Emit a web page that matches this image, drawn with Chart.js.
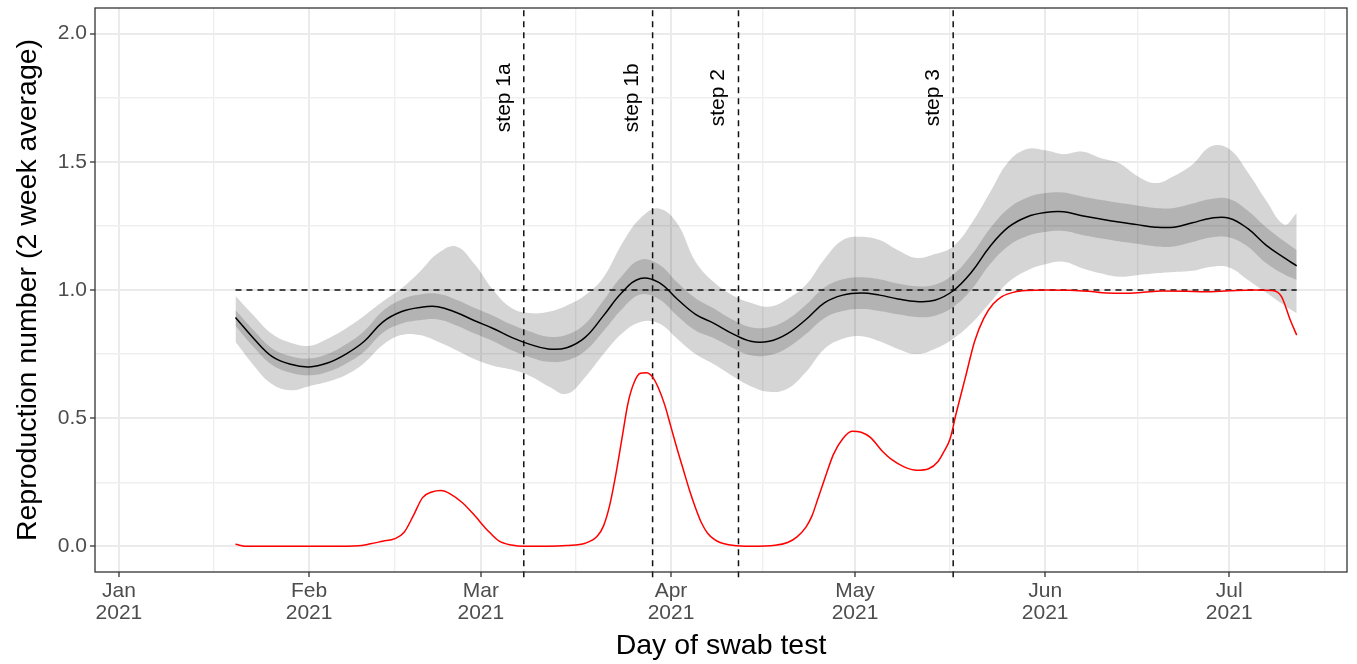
<!DOCTYPE html>
<html>
<head>
<meta charset="utf-8">
<script src="https://cdn.jsdelivr.net/npm/chart.js@4.4.1/dist/chart.umd.min.js"></script>
<style>
  body { margin: 0; background: #fff; }
  canvas { display: block; }
</style>
</head>
<body>
<canvas id="rChart" width="1357" height="664"></canvas>
<script>
// days counted from 1 Jan 2021
const bandDays = [19, 22, 25, 28, 31, 34, 37, 40, 43, 46, 49, 52, 55, 58, 61, 64, 67, 70, 73, 76,
    79, 82, 85, 88, 91, 94, 97, 100, 103, 106, 109, 112, 115, 118, 121, 124, 127, 130, 133, 136,
    139, 142, 145, 148, 151, 154, 157, 160, 163, 166, 169, 172, 175, 178, 181, 184, 187, 190, 192];

const meanR = [0.893, 0.81, 0.74, 0.71, 0.70, 0.715, 0.75, 0.80, 0.875, 0.915, 0.932, 0.935, 0.912, 0.88, 0.85, 0.815, 0.788, 0.77, 0.775, 0.815,
    0.90, 0.99, 1.045, 1.03, 0.965, 0.905, 0.87, 0.83, 0.80, 0.80, 0.83, 0.885, 0.95, 0.98, 0.988, 0.98, 0.965, 0.955, 0.96, 0.997,
    1.07, 1.17, 1.245, 1.285, 1.302, 1.305, 1.29, 1.277, 1.265, 1.255, 1.245, 1.245, 1.262, 1.28, 1.28, 1.24, 1.175, 1.125, 1.094];

const darkUpper = [0.922, 0.842, 0.772, 0.742, 0.733, 0.75, 0.788, 0.84, 0.918, 0.962, 0.982, 0.985, 0.962, 0.93, 0.90, 0.865, 0.838, 0.818, 0.825, 0.868,
    0.96, 1.055, 1.118, 1.10, 1.03, 0.968, 0.928, 0.885, 0.855, 0.855, 0.885, 0.942, 1.01, 1.042, 1.05, 1.042, 1.025, 1.015, 1.02, 1.06,
    1.138, 1.24, 1.318, 1.36, 1.378, 1.38, 1.365, 1.352, 1.34, 1.33, 1.32, 1.32, 1.337, 1.355, 1.355, 1.31, 1.245, 1.19, 1.156];

const darkLower = [0.86, 0.777, 0.707, 0.677, 0.667, 0.68, 0.712, 0.76, 0.832, 0.868, 0.882, 0.885, 0.862, 0.83, 0.80, 0.765, 0.738, 0.72, 0.725, 0.762,
    0.84, 0.925, 0.982, 0.965, 0.90, 0.842, 0.812, 0.775, 0.745, 0.745, 0.775, 0.828, 0.89, 0.918, 0.926, 0.918, 0.905, 0.895, 0.90, 0.934,
    1.002, 1.10, 1.172, 1.21, 1.226, 1.23, 1.215, 1.202, 1.19, 1.18, 1.17, 1.17, 1.187, 1.205, 1.205, 1.17, 1.105, 1.06, 1.039];

const lightUpper = [0.977, 0.90, 0.828, 0.794, 0.782, 0.81, 0.85, 0.90, 0.955, 1.005, 1.07, 1.143, 1.17, 1.10, 1.00, 0.93, 0.91, 0.915, 0.94, 0.98,
    1.05, 1.18, 1.28, 1.318, 1.26, 1.11, 1.03, 0.98, 0.95, 0.935, 0.965, 1.02, 1.12, 1.195, 1.208, 1.195, 1.155, 1.125, 1.14, 1.17,
    1.26, 1.38, 1.50, 1.55, 1.545, 1.53, 1.54, 1.515, 1.495, 1.445, 1.417, 1.445, 1.49, 1.56, 1.55, 1.46, 1.35, 1.255, 1.30];

const lightLower = [0.798, 0.705, 0.632, 0.609, 0.625, 0.642, 0.668, 0.715, 0.785, 0.824, 0.824, 0.798, 0.765, 0.73, 0.705, 0.69, 0.665, 0.625, 0.595, 0.66,
    0.75, 0.83, 0.875, 0.87, 0.81, 0.75, 0.71, 0.665, 0.625, 0.603, 0.615, 0.68, 0.77, 0.81, 0.82, 0.80, 0.77, 0.75, 0.77, 0.81,
    0.87, 0.95, 1.03, 1.075, 1.10, 1.11, 1.085, 1.065, 1.052, 1.058, 1.065, 1.07, 1.075, 1.09, 1.088, 1.04, 0.99, 0.94, 0.909];

// red curve
const redDays = [19, 21, 25, 30, 35, 39, 41, 43, 45, 46.5, 48, 49.5, 51, 52.5, 54, 56, 58, 60, 62, 64, 66, 70,
    73, 76, 78, 79, 80, 81, 82, 83, 84, 85, 86, 87, 88, 89, 90, 91, 92, 93, 94, 95, 96, 97, 98, 100, 103,
    107, 109, 110.5, 112, 113, 114, 115, 116.5, 118, 119.5, 121, 122.5, 124.5, 126, 128, 130, 132, 133.5, 134.5, 135.5,
    136.5, 138, 139.5, 141, 142.5, 144, 146, 148, 151, 155, 158, 161, 164, 167, 170, 174, 177, 181, 185, 188, 189.5, 191, 192];
const redValues = [0.008, 0, 0, 0, 0, 0.002, 0.01, 0.02, 0.03, 0.055, 0.12, 0.19, 0.212, 0.218, 0.205, 0.17, 0.12, 0.065, 0.02, 0.005, 0, 0,
    0.003, 0.012, 0.04, 0.08, 0.16, 0.28, 0.42, 0.56, 0.64, 0.675, 0.677, 0.66, 0.615, 0.55, 0.465, 0.38, 0.30, 0.22, 0.15, 0.09, 0.05, 0.028, 0.015, 0.004, 0,
    0.004, 0.015, 0.036, 0.075, 0.12, 0.19, 0.26, 0.36, 0.42, 0.449, 0.445, 0.425, 0.37, 0.338, 0.31, 0.297, 0.303, 0.33, 0.37, 0.42,
    0.52, 0.66, 0.80, 0.89, 0.945, 0.975, 0.992, 0.998, 1.0, 0.999, 0.995, 0.988, 0.987, 0.991, 0.996, 0.995, 0.993, 0.997, 1.0, 0.998, 0.975, 0.88, 0.824];

const thresholdDays = [19, 192];
const thresholdValues = [1, 1];

const stepDays = [66, 87, 101, 136];
const stepLabels = ['step 1a', 'step 1b', 'step 2', 'step 3'];
const stepLabelY = 1.75;

const monthTicks = [0, 31, 59, 90, 120, 151, 181];
const monthLabels = ['Jan', 'Feb', 'Mar', 'Apr', 'May', 'Jun', 'Jul'];
const yearLabel = '2021';
const minorDayTicks = [15.5, 45, 74.5, 105, 135.5, 166, 196.5];

const rTicks = [0, 0.5, 1, 1.5, 2];
const rMinorTicks = [0.25, 0.75, 1.25, 1.75];

const dayMin = -3.9, dayMax = 200.2;
const rMin = -0.1, rMax = 2.1;

function toPoints(xs, ys) {
    return xs.map((x, i) => ({ x: x, y: ys[i] }));
}

Chart.defaults.font.family = "'Liberation Sans', Arial, sans-serif";

const smooth = { tension: 0.4, pointRadius: 0 };

const datasets = [
    { ...smooth, data: toPoints(bandDays, lightUpper), borderWidth: 0, fill: false, order: 10 },
    { ...smooth, data: toPoints(bandDays, lightLower), borderWidth: 0, fill: 0, backgroundColor: 'rgba(0,0,0,0.165)', order: 10 },
    { ...smooth, data: toPoints(bandDays, darkUpper), borderWidth: 0, fill: false, order: 9 },
    { ...smooth, data: toPoints(bandDays, darkLower), borderWidth: 0, fill: 2, backgroundColor: 'rgba(0,0,0,0.16)', order: 9 },
    { data: toPoints(thresholdDays, thresholdValues), borderColor: '#111', borderWidth: 1.5, borderDash: [6, 5], pointRadius: 0, fill: false, order: 5 },
    { ...smooth, data: toPoints(bandDays, meanR), borderColor: '#000', borderWidth: 1.5, fill: false, order: 2 },
    { data: toPoints(redDays, redValues), borderColor: '#f00', borderWidth: 1.5, pointRadius: 0, fill: false, order: 1, cubicInterpolationMode: 'monotone' }
];

stepDays.forEach(d => {
    datasets.push({
        data: [{ x: d, y: -0.12 }, { x: d, y: rMax }],
        borderColor: '#111', borderWidth: 1.5, borderDash: [6, 5],
        pointRadius: 0, fill: false, order: 4, clip: false
    });
});

const panelBorder = {
    id: 'panelBorder',
    afterDraw(chart) {
        const { ctx, chartArea: a } = chart;
        ctx.save();
        ctx.strokeStyle = '#333';
        ctx.lineWidth = 1.3;
        ctx.strokeRect(a.left, a.top, a.right - a.left, a.bottom - a.top);
        ctx.restore();
    }
};

const stepText = {
    id: 'stepText',
    afterDatasetsDraw(chart) {
        const { ctx, scales } = chart;
        ctx.save();
        ctx.fillStyle = '#000';
        ctx.font = "21px 'Liberation Sans', Arial, sans-serif";
        ctx.textAlign = 'center';
        ctx.textBaseline = 'middle';
        stepDays.forEach((d, i) => {
            const px = scales.x.getPixelForValue(d) - 20;
            const py = scales.y.getPixelForValue(stepLabelY);
            ctx.save();
            ctx.translate(px, py);
            ctx.rotate(-Math.PI / 2);
            ctx.fillText(stepLabels[i], 0, 0);
            ctx.restore();
        });
        ctx.restore();
    }
};

new Chart(document.getElementById('rChart'), {
    type: 'line',
    data: { datasets: datasets },
    plugins: [panelBorder, stepText],
    options: {
        responsive: false,
        devicePixelRatio: 1,
        animation: false,
        layout: { padding: { top: 8, right: 10, left: 0, bottom: 0 } },
        plugins: { legend: { display: false }, tooltip: { enabled: false } },
        scales: {
            x: {
                type: 'linear', position: 'bottom', min: dayMin, max: dayMax,
                afterBuildTicks: s => { s.ticks = monthTicks.map(v => ({ value: v })); },
                ticks: {
                    autoSkip: false, maxRotation: 0, padding: 3, color: '#4d4d4d',
                    font: { size: 21, lineHeight: 1.05 },
                    callback: v => [monthLabels[monthTicks.indexOf(v)], yearLabel]
                },
                grid: { color: '#ebebeb', lineWidth: 2, tickColor: '#333', tickLength: 5, tickWidth: 1.3 },
                border: { display: false },
                title: { display: true, text: 'Day of swab test', color: '#000', font: { size: 28.5 }, padding: { top: 0, bottom: 1 } },
                afterFit: s => { s.height = 92; s.paddingLeft = 0; s.paddingRight = 0; }
            },
            xMinor: {
                type: 'linear', position: 'bottom', min: dayMin, max: dayMax,
                afterBuildTicks: s => { s.ticks = minorDayTicks.map(v => ({ value: v })); },
                ticks: { display: false },
                grid: { color: '#efefef', lineWidth: 1.4, drawTicks: false },
                border: { display: false },
                afterFit: s => { s.height = 0; s.paddingLeft = 0; s.paddingRight = 0; }
            },
            y: {
                type: 'linear', position: 'left', min: rMin, max: rMax,
                afterBuildTicks: s => { s.ticks = rTicks.map(v => ({ value: v })); },
                ticks: { padding: 3, color: '#4d4d4d', font: { size: 21 }, callback: v => v.toFixed(1) },
                grid: { color: '#ebebeb', lineWidth: 2, tickColor: '#333', tickLength: 5, tickWidth: 1.3 },
                border: { display: false },
                title: { display: true, text: 'Reproduction number (2 week average)', color: '#000', font: { size: 28.5 }, padding: { top: 11, bottom: 0 } },
                afterFit: s => { s.width = 95; s.paddingTop = 0; s.paddingBottom = 0; }
            },
            yMinor: {
                type: 'linear', position: 'left', min: rMin, max: rMax,
                afterBuildTicks: s => { s.ticks = rMinorTicks.map(v => ({ value: v })); },
                ticks: { display: false },
                grid: { color: '#efefef', lineWidth: 1.4, drawTicks: false },
                border: { display: false },
                afterFit: s => { s.width = 0; s.paddingTop = 0; s.paddingBottom = 0; }
            }
        }
    }
});
</script>
</body>
</html>
